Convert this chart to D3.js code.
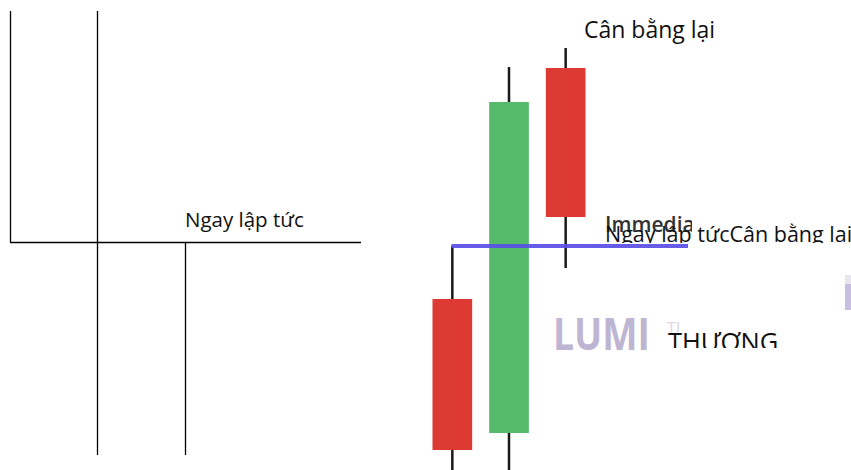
<!DOCTYPE html>
<html>
<head>
<meta charset="utf-8">
<script src="https://cdn.jsdelivr.net/npm/d3@7"></script>
<style>
  body { margin: 0; background: #fff; }
  text { font-family: "Open Sans", "Noto Sans", sans-serif; }
</style>
</head>
<body>
<script>
// Size of the page
var width = 851;
var height = 470;

// Candles: ids, open/high/low/close
var candleIds = ["c1", "c2", "c3"];
var opens  = [17.1, 3.7, 40.2];
var closes = [2.0, 36.8, 25.3];
var highs  = [22.4, 40.3, 42.2];
var lows   = [-1.0, -1.0, 20.2];

// Level of the horizontal line
var levelValue = 22.4;

// Labels
var leftLabel = "Ngay lập tức";
var topLabel = "Cân bằng lại";
var overlapLabels = ["Immediately", "Ngay lập tức", "Cân bằng lại"];
var watermark = "LUMI";
var bottomLabel = "THƯƠNG";

var candles = candleIds.map(function(id, i) {
  return { id: id, open: opens[i], close: closes[i], high: highs[i], low: lows[i] };
});

var svg = d3.select("body").append("svg")
  .attr("width", width)
  .attr("height", height);

// Left panel: empty frame of lines
var frame = svg.append("g").attr("stroke", "#000").attr("stroke-width", 1.3);
frame.append("line").attr("x1", 10.5).attr("y1", 11).attr("x2", 10.5).attr("y2", 242);
frame.append("line").attr("x1", 97.5).attr("y1", 11).attr("x2", 97.5).attr("y2", 455);
frame.append("line").attr("x1", 10).attr("y1", 242.5).attr("x2", 361).attr("y2", 242.5);
frame.append("line").attr("x1", 185.5).attr("y1", 242).attr("x2", 185.5).attr("y2", 455);

svg.append("text")
  .attr("x", 185).attr("y", 227)
  .attr("font-size", 20.5)
  .attr("fill", "#111")
  .text(leftLabel);

// Right panel: candles
var x = d3.scaleBand()
  .domain(candleIds)
  .range([424, 594])
  .paddingInner(0.3)
  .paddingOuter(0.15);

var y = d3.scaleLinear()
  .domain([0, 47])
  .range([470, 0]);

var g = svg.append("g");

// watermark behind the candles
g.append("text")
  .attr("x", 553).attr("y", 350)
  .attr("font-family", "Lato, sans-serif")
  .attr("font-weight", 700)
  .attr("font-size", 45)
  .attr("textLength", 97)
  .attr("lengthAdjust", "spacingAndGlyphs")
  .attr("fill", "#bdb5d2")
  .text(watermark);
g.append("text")
  .attr("x", 667).attr("y", 334)
  .attr("font-size", 16)
  .attr("fill", "#dcd6e8")
  .text("TI");
g.append("rect")
  .attr("x", 845).attr("y", 275).attr("width", 6).attr("height", 9)
  .attr("fill", "#e8e4f0");
g.append("rect")
  .attr("x", 845).attr("y", 284).attr("width", 6).attr("height", 26)
  .attr("fill", "#c7bee0");

var c = g.selectAll(".candle")
  .data(candles)
  .enter().append("g")
  .attr("class", "candle");

c.append("line")
  .attr("x1", function(d) { return x(d.id) + x.bandwidth() / 2; })
  .attr("x2", function(d) { return x(d.id) + x.bandwidth() / 2; })
  .attr("y1", function(d) { return y(d.high); })
  .attr("y2", function(d) { return y(d.low); })
  .attr("stroke", "#1a1a1a")
  .attr("stroke-width", 2.5);

c.append("rect")
  .attr("x", function(d) { return x(d.id); })
  .attr("width", x.bandwidth())
  .attr("y", function(d) { return y(Math.max(d.open, d.close)); })
  .attr("height", function(d) { return Math.abs(y(d.open) - y(d.close)); })
  .attr("fill", function(d) { return d.close > d.open ? "#55bb6b" : "#dc3a32"; });

// horizontal level line
g.append("line")
  .attr("x1", x("c1") + x.bandwidth() / 2 - 1)
  .attr("x2", 688)
  .attr("y1", y(levelValue))
  .attr("y2", y(levelValue))
  .attr("stroke", "#5a4ee6")
  .attr("stroke-opacity", 0.92)
  .attr("stroke-width", 4);

// labels
g.append("text")
  .attr("x", 584).attr("y", 38)
  .attr("font-size", 23)
  .attr("fill", "#111")
  .text(topLabel);

// overlapping, clipped labels near the level
var defs = svg.append("defs");
defs.append("clipPath").attr("id", "clipA")
  .append("rect").attr("x", 600).attr("y", 200).attr("width", 92).attr("height", 43);
defs.append("clipPath").attr("id", "clipB")
  .append("rect").attr("x", 600).attr("y", 200).attr("width", 251).attr("height", 43);
defs.append("clipPath").attr("id", "clipC")
  .append("rect").attr("x", 600).attr("y", 300).attr("width", 251).attr("height", 48);

g.append("text")
  .attr("clip-path", "url(#clipA)")
  .attr("x", 605).attr("y", 232)
  .attr("font-size", 21)
  .attr("font-weight", 600)
  .attr("fill", "#333")
  .text(overlapLabels[0]);

var t = g.append("text")
  .attr("clip-path", "url(#clipB)")
  .attr("x", 605).attr("y", 242)
  .attr("font-size", 21.5)
  .attr("fill", "#111");
t.append("tspan").text(overlapLabels[1]);
t.append("tspan").text(overlapLabels[2]);

g.append("text")
  .attr("clip-path", "url(#clipC)")
  .attr("x", 668).attr("y", 351)
  .attr("font-size", 25.5)
  .attr("fill", "#111")
  .text(bottomLabel);
</script>
</body>
</html>
